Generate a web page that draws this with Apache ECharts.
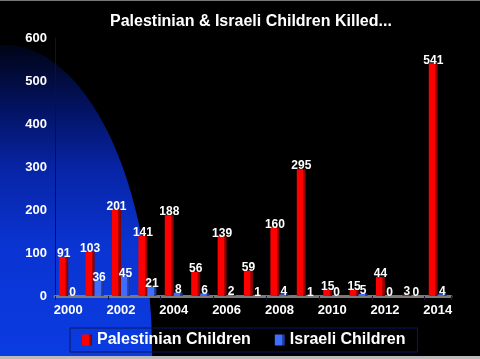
<!DOCTYPE html>
<html>
<head>
<meta charset="utf-8">
<script src="https://cdn.jsdelivr.net/npm/echarts@6/dist/echarts.min.js"></script>
<style>html,body{margin:0;padding:0;background:#000;}#c{width:480px;height:359px;}</style>
</head>
<body>
<div id="c"></div>
<script>
const years = ['2000','2001','2002','2003','2004','2005','2006','2007','2008','2009','2010','2011','2012','2013','2014'];
const palestinian = [91,103,201,141,188,56,139,59,160,295,15,15,44,3,541];
const israeli = [0,36,45,21,8,6,2,1,4,1,0,5,0,0,4];
const yMin = 0, yMax = 600, yStep = 100;

const chart = echarts.init(document.getElementById('c'));
const font = 'Liberation Sans, Arial, sans-serif';
function grad(a, b, c) {
  return new echarts.graphic.LinearGradient(0, 0, 1, 0, [
    {offset: 0, color: a}, {offset: 0.68, color: a},
    {offset: 0.72, color: b}, {offset: 1, color: c}
  ]);
}
chart.setOption({
  color: ['#ff0000', '#3f6dff'],
  backgroundColor: '#000',
  animation: false,
  graphic: [
    {type: 'circle', z: -10, silent: true, x: 5, y: 350, scaleX: 0.482, scaleY: 1,
     shape: {cx: 0, cy: 0, r: 305},
     style: {fill: new echarts.graphic.LinearGradient(0, 0, 0, 1, [
       {offset: 0, color: '#000416'}, {offset: 0.1, color: '#03125e'},
       {offset: 0.2, color: '#0724a4'}, {offset: 0.33, color: '#0a34d2'},
       {offset: 0.515, color: '#0a3ce2'}, {offset: 1, color: '#0a3ce2'}])}},
    {type: 'rect', shape: {x: 0, y: 0, width: 480, height: 1}, style: {fill: '#777'}, silent: true},
    {type: 'rect', shape: {x: 0, y: 356, width: 480, height: 3}, style: {fill: '#bbb'}, silent: true}
  ],
  title: {
    text: 'Palestinian & Israeli Children Killed...',
    left: 105, top: 9,
    textStyle: {color: '#fff', fontSize: 16, fontWeight: 'bold', fontFamily: font}
  },
  legend: {
    data: ['Palestinian Children', 'Israeli Children'],
    left: 70, top: 328,
    padding: [4, 12, 4, 12],
    borderColor: '#0a1660', borderWidth: 1,
    itemWidth: 10, itemHeight: 11, itemGap: 24, icon: 'rect',
    textStyle: {color: '#fff', fontSize: 16, fontWeight: 'bold', fontFamily: font}
  },
  grid: {left: 55, right: 29, top: 38, bottom: 63, containLabel: false},
  xAxis: {
    type: 'category', data: years,
    axisLine: {lineStyle: {color: '#7a7a7a', width: 3}},
    axisTick: {show: true, length: 4, lineStyle: {color: '#1a1a40'}},
    axisLabel: {interval: 1, color: '#fff', fontSize: 13, fontWeight: 'bold', fontFamily: font, margin: 8}
  },
  yAxis: {
    type: 'value', min: yMin, max: yMax, interval: yStep,
    splitLine: {show: false},
    axisLine: {show: true, lineStyle: {color: '#101030', width: 1}},
    axisTick: {show: false},
    axisLabel: {color: '#fff', fontSize: 13, fontWeight: 'bold', fontFamily: font, margin: 8}
  },
  series: [
    {name: 'Palestinian Children', type: 'bar', data: palestinian, barWidth: 9, barGap: '0%',
     itemStyle: {color: grad('#ff0000', '#b00000', '#780000')},
     label: {show: true, position: 'top', distance: -3, color: '#fff', fontSize: 12, fontWeight: 'bold', fontFamily: font}},
    {name: 'Israeli Children', type: 'bar', data: israeli, barWidth: 9,
     itemStyle: {color: grad('#3f6dff', '#2846b4', '#1a3090')},
     label: {show: true, position: 'top', distance: -3, color: '#fff', fontSize: 12, fontWeight: 'bold', fontFamily: font}}
  ]
});
</script>
</body>
</html>
